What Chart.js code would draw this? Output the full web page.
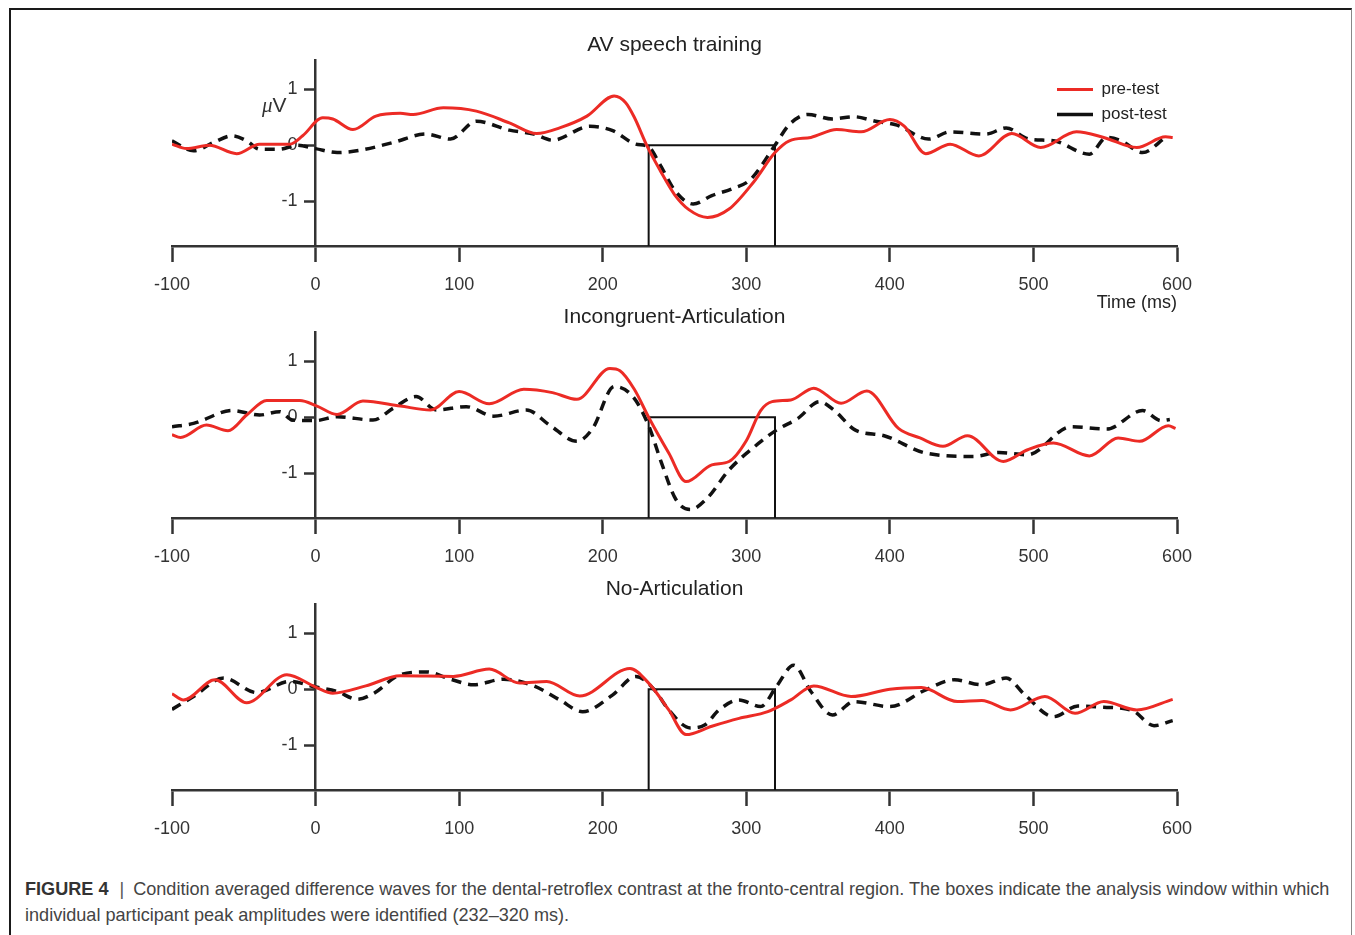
<!DOCTYPE html>
<html>
<head>
<meta charset="utf-8">
<script src="https://cdn.jsdelivr.net/npm/chart.js@4.4.0/dist/chart.umd.min.js"></script>
<style>
  body { margin: 0; background: #fff; width: 1355px; height: 935px; position: relative; overflow: hidden; font-family: "Liberation Sans", Arial, sans-serif; }
  #frame { position: absolute; left: 9px; top: 8px; width: 1340px; height: 960px; border-top: 2px solid #1a1a1a; border-left: 2px solid #1a1a1a; border-right: 1px solid #888; }
  canvas { position: absolute; left: 0; }
  #uv { position: absolute; left: 262px; top: 93px; font-size: 21px; color: #333; }
  #uv i { font-family: "Liberation Serif", serif; }
  #caption { position: absolute; left: 25px; top: 876px; width: 1318px; font-size: 18.1px; line-height: 26px; color: #444; }
  #caption b { color: #333; }
  #caption .bar { color: #555; padding: 0 9px 0 11px; }
</style>
</head>
<body>
<div id="frame"></div>
<canvas id="p1" width="1355" height="314" style="top:0px"></canvas>
<canvas id="p2" width="1355" height="282" style="top:286px"></canvas>
<canvas id="p3" width="1355" height="282" style="top:558px"></canvas>
<canvas id="leg" width="200" height="64" style="left:1049px;top:73px"></canvas>
<div id="uv"><i>μ</i>V</div>
<div id="caption"><b>FIGURE 4</b><span class="bar">|</span>Condition averaged difference waves for the dental-retroflex contrast at the fronto-central region. The boxes indicate the analysis window within which individual participant peak amplitudes were identified (232–320 ms).</div>
<script>
// ---- data (ms, µV) ----
const xTicks = [-100, 0, 100, 200, 300, 400, 500, 600]
const yTicks = [-1, 0, 1]
const windowT = [232, 232, 320, 320]
const windowV = [-1.8, 0, 0, -1.8]

// AV speech training
const avPreT  = [-100,-90,-74,-55,-39,-18,-9,5,12,26,42,59,68,89,112,135,154,170,189,208,216,222,231,240,250,260,273,288,305,320,330,345,363,380,400,410,425,442,462,485,505,530,549,572,592,597]
const avPreV  = [0.02,-0.06,0,-0.15,0.02,0.02,0.17,0.49,0.47,0.28,0.52,0.57,0.55,0.67,0.61,0.40,0.21,0.31,0.52,0.88,0.76,0.50,-0.02,-0.45,-0.88,-1.15,-1.29,-1.14,-0.66,-0.13,0.08,0.14,0.28,0.24,0.46,0.34,-0.15,0.02,-0.19,0.21,-0.04,0.24,0.14,-0.04,0.15,0.14]
const avPostT = [-100,-85,-71,-58,-48,-39,-25,-13,0,15,31,54,77,94,112,135,152,165,191,207,223,232,240,250,263,276,291,303,320,330,343,360,375,390,405,427,442,467,481,497,514,539,551,561,576,592]
const avPostV = [0.08,-0.10,0.05,0.17,0.08,-0.07,-0.07,0,-0.06,-0.13,-0.09,0.05,0.20,0.11,0.43,0.27,0.20,0.09,0.34,0.26,0.02,-0.03,-0.35,-0.80,-1.05,-0.90,-0.77,-0.61,0,0.37,0.55,0.47,0.51,0.43,0.36,0.11,0.24,0.20,0.31,0.11,0.08,-0.16,0.14,0.08,-0.13,0.14]

// Incongruent-Articulation
const incPreT  = [-100,-94,-76,-61,-48,-34,-11,1,15,33,59,80,100,121,145,165,182,205,212,222,232,246,258,276,288,300,310,318,331,347,366,384,406,421,437,454,479,496,514,539,559,574,594,599]
const incPreV  = [-0.31,-0.36,-0.14,-0.24,0.04,0.30,0.30,0.20,0.05,0.29,0.20,0.13,0.46,0.24,0.50,0.44,0.32,0.87,0.83,0.50,0,-0.64,-1.15,-0.85,-0.79,-0.42,0.12,0.28,0.31,0.52,0.25,0.47,-0.20,-0.37,-0.52,-0.33,-0.79,-0.58,-0.46,-0.69,-0.37,-0.43,-0.15,-0.20]
const incPostT = [-100,-85,-58,-39,-25,-16,0,15,40,54,70,84,105,124,147,163,182,193,208,221,232,241,251,261,273,288,306,321,336,351,361,376,396,425,458,476,496,526,551,576,589,595]
const incPostV = [-0.17,-0.11,0.12,0.04,0.10,-0.05,-0.06,0.01,-0.05,0.16,0.37,0.13,0.19,0.02,0.13,-0.14,-0.43,-0.20,0.55,0.37,-0.15,-0.82,-1.47,-1.65,-1.44,-0.94,-0.52,-0.23,-0.02,0.28,0.13,-0.23,-0.33,-0.64,-0.70,-0.63,-0.67,-0.17,-0.21,0.12,-0.06,-0.04]

// No-Articulation
const noPreT  = [-100,-92,-70,-48,-20,0,12,35,59,96,121,142,161,184,219,232,246,258,276,295,315,331,347,373,400,422,447,464,484,508,529,549,572,597]
const noPreV  = [-0.08,-0.19,0.17,-0.24,0.26,0.04,-0.07,0.06,0.24,0.23,0.36,0.11,0.14,-0.12,0.37,0.11,-0.37,-0.81,-0.66,-0.52,-0.40,-0.19,0.06,-0.13,0,0.03,-0.22,-0.20,-0.37,-0.13,-0.43,-0.22,-0.37,-0.18]
const noPostT = [-100,-85,-64,-41,-18,0,15,29,40,59,77,94,110,131,152,170,186,207,223,236,246,261,271,281,295,310,321,333,345,360,375,400,425,445,464,481,494,514,531,549,569,584,597]
const noPostV = [-0.36,-0.13,0.20,-0.06,0.14,0.04,-0.04,-0.18,-0.08,0.26,0.31,0.18,0.08,0.18,0.06,-0.19,-0.40,-0.10,0.23,-0.01,-0.37,-0.69,-0.64,-0.37,-0.19,-0.31,0.05,0.43,-0.04,-0.46,-0.22,-0.31,-0.01,0.17,0.08,0.20,-0.10,-0.49,-0.30,-0.32,-0.38,-0.65,-0.56]

const sans = '"Liberation Sans", Arial, Helvetica, sans-serif'
const axisCol = '#333'
const redCol = '#ec2b25'

function pts(t, v) {
    return t.map((x, i) => ({x: x, y: v[i]}))
}

function makePanel(id, title, pre, post, opts) {
    let ctx = document.getElementById(id).getContext('2d')
    return new Chart(ctx, {
        type: 'line',
        data: {
            datasets: [
                {label: 'pre-test', data: pts(pre[0], pre[1]), borderColor: redCol, borderWidth: 3, pointRadius: 0, cubicInterpolationMode: 'monotone'},
                {label: 'post-test', data: pts(post[0], post[1]), borderColor: '#111', borderWidth: 3.5, borderDash: [10, 7], pointRadius: 0, cubicInterpolationMode: 'monotone'},
                {label: 'window', data: pts(windowT, windowV), borderColor: '#111', borderWidth: 2, pointRadius: 0, tension: 0}
            ]
        },
        options: {
            responsive: false,
            animation: false,
            events: [],
            layout: {padding: {top: opts.padTop, left: 172, right: 178, bottom: 0}},
            plugins: {
                legend: {display: false},
                tooltip: {enabled: false},
                title: {display: true, text: title, color: '#222', font: {family: sans, size: 21, weight: 'normal', lineHeight: 1.2}, padding: {top: 0, bottom: 2}}
            },
            scales: {
                x: {
                    type: 'linear', min: -100, max: 600,
                    afterBuildTicks: s => { s.ticks = xTicks.map(v => ({value: v})) },
                    afterFit: s => { s.height = opts.xHeight },
                    grid: {drawOnChartArea: false, drawTicks: true, tickLength: 16, tickWidth: 2.5, tickColor: axisCol},
                    border: {display: true, color: axisCol, width: 2.5},
                    ticks: {padding: 12, color: axisCol, font: {family: sans, size: 18}, maxRotation: 0, autoSkip: false},
                    title: opts.xTitle ? {display: true, text: opts.xTitle, align: 'end', color: '#222', font: {family: sans, size: 18}, padding: {top: 0, bottom: 0}} : {display: false}
                },
                y: {
                    type: 'linear', min: -1.8, max: 1.52,
                    position: {x: 0},
                    afterBuildTicks: s => { s.ticks = yTicks.map(v => ({value: v})) },
                    afterFit: s => { s.width = 0 },
                    grid: {drawOnChartArea: false, drawTicks: true, tickLength: 10, tickWidth: 2.5, tickColor: axisCol},
                    border: {display: true, color: axisCol, width: 2.5},
                    // trailing en-spaces keep the right-aligned label clear of the tick mark
                    ticks: {color: axisCol, font: {family: sans, size: 18}, callback: v => v + '\u2002\u2002'}
                }
            }
        }
    })
}

makePanel('p1', 'AV speech training', [avPreT, avPreV], [avPostT, avPostV], {padTop: 33, xHeight: 68, xTitle: 'Time (ms)'})
makePanel('p2', 'Incongruent-Articulation', [incPreT, incPreV], [incPostT, incPostV], {padTop: 19, xHeight: 50})
makePanel('p3', 'No-Articulation', [noPreT, noPreV], [noPostT, noPostV], {padTop: 19, xHeight: 50})

// legend of the first panel
new Chart(document.getElementById('leg').getContext('2d'), {
    type: 'line',
    data: {
        datasets: [
            {label: 'pre-test', data: [], borderColor: redCol, borderWidth: 3},
            {label: 'post-test', data: [], borderColor: '#111', borderWidth: 3.5, borderDash: [10, 7]}
        ]
    },
    options: {
        responsive: false,
        animation: false,
        events: [],
        layout: {padding: 0},
        scales: {x: {display: false}, y: {display: false}},
        plugins: {
            tooltip: {enabled: false},
            legend: {
                position: 'left', align: 'start', maxWidth: 200,
                labels: {usePointStyle: true, pointStyle: 'line', pointStyleWidth: 36, padding: 8, color: '#222', font: {family: sans, size: 17}}
            }
        }
    }
})
</script>
</body>
</html>
